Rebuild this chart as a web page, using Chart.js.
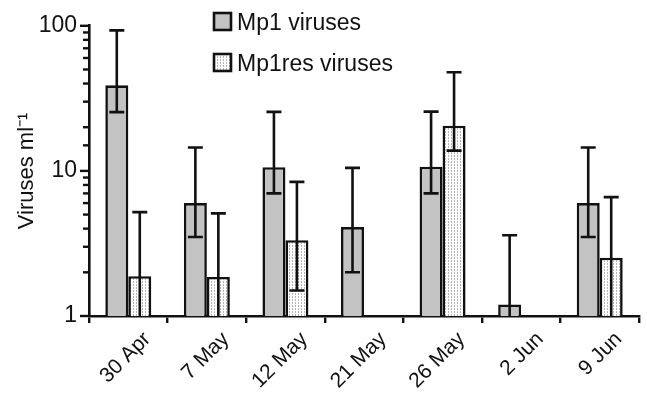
<!DOCTYPE html>
<html>
<head>
<meta charset="utf-8">
<script src="https://cdn.jsdelivr.net/npm/chart.js@4"></script>
<style>
  body { margin: 0; background: #fff; }
  #wrap { width: 647px; height: 395px; }
</style>
</head>
<body>
<div id="wrap"><canvas id="virusChart" width="647" height="395"></canvas></div>
<script>
document.addEventListener('DOMContentLoaded', () => {

    const categories = ['30 Apr', '7 May', '12 May', '21 May', '26 May', '2 Jun', '9 Jun'];

    // Mp1 viruses: mean and error bar ends
    const mp1 = [38.9, 6.0, 10.6, 4.1, 10.7, 1.2, 6.0];
    const mp1Upper = [93, 14.5, 25.5, 10.5, 25.6, 3.6, 14.5];
    const mp1Lower = [25.4, 3.5, 7.0, 2.0, 7.0, null, 3.5];   // null = runs down to the axis

    // Mp1res viruses
    const mp1res = [1.88, 1.86, 3.33, null, 20.5, null, 2.52];
    const mp1resUpper = [5.2, 5.1, 8.4, null, 47.8, null, 6.6];
    const mp1resLower = [null, null, 1.5, null, 13.8, null, null];

    const yTickLabels = [1, 10, 100];

    const font = "'Liberation Sans', Arial, Helvetica, sans-serif";
    const ink = '#111';
    const canvas = document.getElementById('virusChart');
    const ctx = canvas.getContext('2d');

    // stippled fill for the Mp1res bars
    const tile = document.createElement('canvas');
    tile.width = 3; tile.height = 3;
    const tctx = tile.getContext('2d');
    tctx.fillStyle = '#ffffff';
    tctx.fillRect(0, 0, 3, 3);
    tctx.fillStyle = '#b4b4b4';
    tctx.fillRect(1, 0, 1, 1);
    tctx.fillRect(1, 2, 1, 1);
    const dots = ctx.createPattern(tile, 'repeat');

    const errorBars = {
        id: 'errorBars',
        afterDatasetsDraw(chart) {
            const y = chart.scales.y;
            const c = chart.ctx;
            c.save();
            c.strokeStyle = ink;
            c.lineWidth = 2.6;
            chart.data.datasets.forEach((ds, i) => {
                const meta = chart.getDatasetMeta(i);
                meta.data.forEach((bar, j) => {
                    if (ds.data[j] == null || ds.errUpper[j] == null) return;
                    const x = bar.x;
                    const top = y.getPixelForValue(ds.errUpper[j]);
                    const low = ds.errLower[j] != null ? y.getPixelForValue(ds.errLower[j]) : y.bottom;
                    c.beginPath();
                    c.moveTo(x, top); c.lineTo(x, low);
                    c.moveTo(x - 7.5, top); c.lineTo(x + 7.5, top);
                    if (ds.errLower[j] != null) { c.moveTo(x - 7.5, low); c.lineTo(x + 7.5, low); }
                    c.stroke();
                });
            });
            c.restore();
        }
    };

    const yMinorTicks = {
        id: 'yMinorTicks',
        afterDraw(chart) {
            const y = chart.scales.y;
            const c = chart.ctx;
            c.save();
            c.strokeStyle = ink;
            c.lineWidth = 2.4;
            y.ticks.forEach(t => {
                const p = y.getPixelForValue(t.value);
                const major = Number.isInteger(Math.log10(t.value));
                c.beginPath();
                c.moveTo(y.right - (major ? 9 : 6), p);
                c.lineTo(y.right, p);
                c.stroke();
            });
            c.restore();
        }
    };

    const sideLegend = {
        id: 'sideLegend',
        afterDraw(chart) {
            const c = chart.ctx;
            c.save();
            c.font = '23px ' + font;
            c.textBaseline = 'middle';
            chart.data.datasets.forEach((ds, i) => {
                const top = 13 + i * 41;
                c.fillStyle = ds.backgroundColor;
                c.fillRect(214, top, 17, 17);
                c.strokeStyle = ink;
                c.lineWidth = 2.6;
                c.strokeRect(214, top, 17, 17);
                c.fillStyle = ink;
                c.fillText(ds.label, 237, top + 11);
            });
            c.restore();
        }
    };

    new Chart(ctx, {
        type: 'bar',
        data: {
            labels: categories,
            datasets: [
                { label: 'Mp1 viruses', data: mp1, errUpper: mp1Upper, errLower: mp1Lower,
                  backgroundColor: '#c3c3c3', borderColor: ink, borderWidth: 2.6 },
                { label: 'Mp1res viruses', data: mp1res, errUpper: mp1resUpper, errLower: mp1resLower,
                  backgroundColor: dots, borderColor: ink, borderWidth: 2.6 }
            ]
        },
        options: {
            responsive: false,
            devicePixelRatio: 1,
            animation: false,
            categoryPercentage: 0.585,
            barPercentage: 1,
            layout: { padding: { top: 25, right: 8, left: 0, bottom: 0 } },
            plugins: { legend: { display: false }, tooltip: { enabled: false } },
            scales: {
                x: {
                    grid: { drawOnChartArea: false, drawTicks: true, tickLength: 7, color: ink, lineWidth: 2.4 },
                    border: { color: ink, width: 2.6 },
                    ticks: { color: ink, font: { family: font, size: 21 }, minRotation: 45, maxRotation: 45,
                             autoSkip: false, padding: 4, labelOffset: 19 },
                    afterFit(scale) { scale.height = 79; }
                },
                y: {
                    type: 'logarithmic',
                    min: 1,
                    max: 100,
                    grid: { drawOnChartArea: false, drawTicks: false },
                    border: { color: ink, width: 2.6 },
                    ticks: {
                        color: ink, font: { family: font, size: 23 }, padding: 12, autoSkip: false,
                        callback: v => yTickLabels.includes(v) ? String(v) : ''
                    },
                    title: { display: true, text: 'Viruses ml⁻¹', color: ink,
                             font: { family: font, size: 22 }, padding: { top: 14, bottom: 0 } },
                    afterFit(scale) { scale.width = 89; }
                }
            }
        },
        plugins: [errorBars, yMinorTicks, sideLegend]
    });

});
</script>
</body>
</html>
